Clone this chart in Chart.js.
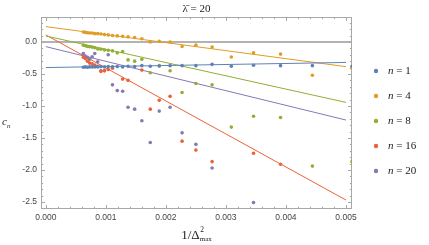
<!DOCTYPE html>
<html>
<head>
<meta charset="utf-8">
<script src="https://cdn.jsdelivr.net/npm/chart.js@4.4.1/dist/chart.umd.min.js"></script>
<style>
  html, body { margin: 0; padding: 0; background: #fff; }
  canvas { display: block; }
</style>
</head>
<body>
<canvas id="chart" width="429" height="245"></canvas>
<script>
// x = 1/Delta_max^2, for Delta_max = 40 down to 14
const xVals = [0.000625, 0.000657, 0.000693, 0.000730, 0.000772, 0.000816, 0.000865, 0.000918, 0.000977,
               0.00104, 0.00111, 0.00119, 0.00128, 0.00137, 0.00148, 0.00160, 0.00174, 0.00189,
               0.00207, 0.00227, 0.00250, 0.00277, 0.00309, 0.00346, 0.00391, 0.00444, 0.00510];

const labels = ['1', '4', '8', '16', '20'];
const colors = ['#5E81B5', '#E19C24', '#8FB032', '#EB6235', '#8778B3'];

const cN1 = [-0.395, -0.39, -0.395, -0.39, -0.39, -0.39, -0.39, -0.385, -0.39, -0.385, -0.39, -0.385, -0.39, -0.38,
             -0.385, -0.37, -0.38, -0.375, -0.37, -0.37, -0.37, -0.35, -0.38, -0.365, -0.37, -0.37, -0.38];
const cN4 = [0.155, 0.15, 0.145, 0.14, 0.14, 0.13, 0.13, 0.125, 0.115, 0.11, 0.10, 0.095, 0.09, 0.08,
             0.07, 0.05, 0.0, 0.01, 0.0, -0.07, -0.05, -0.08, -0.235, -0.17, -0.19, -0.52, -0.41];
const cN8 = [-0.05, -0.06, -0.07, -0.075, -0.08, -0.09, -0.11, -0.115, -0.125, -0.13, -0.14, -0.17, -0.15, -0.28,
             -0.30, -0.27, -0.48, -0.37, -0.45, -0.79, -0.65, -0.67, -1.33, -1.16, -1.18, -1.94, -1.87];
const cN16 = [-0.24, -0.26, -0.30, -0.33, -0.34, -0.36, -0.38, -0.46, -0.45, -0.43, -0.41, null, -0.58, -0.60,
              null, -0.44, -1.05, -0.91, -0.85, -1.55, -1.69, -1.87, null, -1.74, -1.91, null, null];
const cN20 = [-0.18, -0.22, -0.24, -0.27, -0.23, -0.18, -0.31, -0.45, -0.45, -0.20, -0.67, -0.76, -0.77, -1.02,
              -1.05, -1.23, -1.57, -1.08, -1.02, -1.42, -1.60, -1.97, null, -2.51, null, null, null];
const allSeries = [cN1, cN4, cN8, cN16, cN20];

// linear fits: value at x = 0 and at x = 0.005
const fitX = [0, 0.005];
const fitStart = [-0.40, 0.24, 0.094, 0.11, -0.073];
const fitEnd = [-0.32, -0.386, -0.944, -2.47, -1.22];

const xTicks = [0, 0.001, 0.002, 0.003, 0.004, 0.005];
const yTicks = [0, -0.5, -1, -1.5, -2, -2.5];

const datasets = [];
allSeries.forEach((s, i) => {
    datasets.push({
        label: 'n = ' + labels[i],
        data: xVals.map((x, j) => ({x: x, y: s[j]})).filter(p => p.y !== null),
        backgroundColor: colors[i],
        borderWidth: 0,
        pointRadius: 1.8,
        showLine: false
    });
});
allSeries.forEach((s, i) => {
    datasets.push({
        label: 'fit ' + labels[i],
        data: [{x: fitX[0], y: fitStart[i]}, {x: fitX[1], y: fitEnd[i]}],
        borderColor: colors[i],
        borderWidth: 1,
        pointRadius: 0,
        showLine: true
    });
});

const framePlugin = {
    id: 'frame',
    beforeDatasetsDraw(chart) {
        const {ctx, chartArea: a, scales: {x, y}} = chart;
        ctx.save();
        // y = 0 axis
        const y0 = y.getPixelForValue(0);
        ctx.strokeStyle = '#9a9a9a';
        ctx.lineWidth = 1.6;
        ctx.beginPath();
        ctx.moveTo(a.left, y0);
        ctx.lineTo(a.right, y0);
        ctx.stroke();

        // frame
        ctx.strokeStyle = '#a8a8a8';
        ctx.lineWidth = 1;
        ctx.strokeRect(a.left + 0.5, a.top + 0.5, a.right - a.left - 1, a.bottom - a.top - 1);

        // ticks on all four sides, pointing in
        ctx.beginPath();
        for (let k = 0; k <= 25; k++) {
            const px = Math.round(x.getPixelForValue(k * 0.0002)) + 0.5;
            const len = k % 5 === 0 ? 4 : 2.2;
            ctx.moveTo(px, a.bottom); ctx.lineTo(px, a.bottom - len);
            ctx.moveTo(px, a.top); ctx.lineTo(px, a.top + len);
        }
        for (let k = -26; k <= 3; k++) {
            const py = Math.round(y.getPixelForValue(k * 0.1)) + 0.5;
            const len = k % 5 === 0 ? 4 : 2.2;
            ctx.moveTo(a.left, py); ctx.lineTo(a.left + len, py);
            ctx.moveTo(a.right, py); ctx.lineTo(a.right - len, py);
        }
        ctx.stroke();
        ctx.restore();
    },
    afterDraw(chart) {
        const {ctx, chartArea: a, scales: {x, y}} = chart;
        ctx.save();
        // tick labels
        ctx.fillStyle = '#444';
        ctx.font = '8.5px "Liberation Sans"';
        ctx.textAlign = 'center';
        ctx.textBaseline = 'middle';
        xTicks.forEach(v => ctx.fillText(v.toFixed(3), x.getPixelForValue(v), a.bottom + 9));
        ctx.textAlign = 'right';
        yTicks.forEach(v => ctx.fillText(v.toFixed(1), a.left - 4, y.getPixelForValue(v)));

        // title
        ctx.fillStyle = '#222';
        ctx.textAlign = 'center';
        ctx.textBaseline = 'alphabetic';
        ctx.font = '11px "Liberation Serif"';
        ctx.fillText('\u03BB\u0304 = 20', (a.left + a.right) / 2, 12);

        // y label c_n
        ctx.textAlign = 'left';
        ctx.font = 'italic 11px "Liberation Serif"';
        ctx.fillText('c', 2, 125);
        ctx.font = 'italic 7px "Liberation Serif"';
        ctx.fillText('n', 7, 128);

        // x label 1/Δ²max
        ctx.font = '13px "Liberation Serif"';
        const base = '1/\u0394';
        const bw = ctx.measureText(base).width;
        ctx.font = '7px "Liberation Serif"';
        const sw = ctx.measureText('max').width;
        const x0 = (a.left + a.right) / 2 - (bw + sw) / 2;
        ctx.font = '13px "Liberation Serif"';
        ctx.fillText(base, x0, 239);
        ctx.font = '7.5px "Liberation Serif"';
        ctx.fillText('2', x0 + bw + 0.5, 232);
        ctx.font = '7px "Liberation Serif"';
        ctx.fillText('max', x0 + bw, 241);

        // legend
        const lx = 376, ly0 = 71, step = 25;
        labels.forEach((lab, i) => {
            const ly = ly0 + i * step;
            ctx.fillStyle = colors[i];
            ctx.beginPath();
            ctx.arc(lx, ly, 2.2, 0, Math.PI * 2);
            ctx.fill();
            ctx.fillStyle = '#222';
            ctx.textBaseline = 'middle';
            ctx.font = 'italic 11px "Liberation Serif"';
            ctx.fillText('n', 388, ly);
            const w = ctx.measureText('n').width;
            ctx.font = '11px "Liberation Serif"';
            ctx.fillText(' = ' + lab, 388 + w, ly);
        });
        ctx.restore();
    }
};

new Chart(document.getElementById('chart'), {
    type: 'scatter',
    data: { datasets: datasets },
    options: {
        responsive: false,
        animation: false,
        devicePixelRatio: 1,
        layout: { padding: { left: 41, right: 77, top: 17, bottom: 36 } },
        scales: {
            x: { type: 'linear', min: -0.00008, max: 0.0051, display: false },
            y: { type: 'linear', min: -2.61, max: 0.39, display: false }
        },
        plugins: {
            legend: { display: false },
            tooltip: { enabled: false }
        }
    },
    plugins: [framePlugin]
});
</script>
</body>
</html>
